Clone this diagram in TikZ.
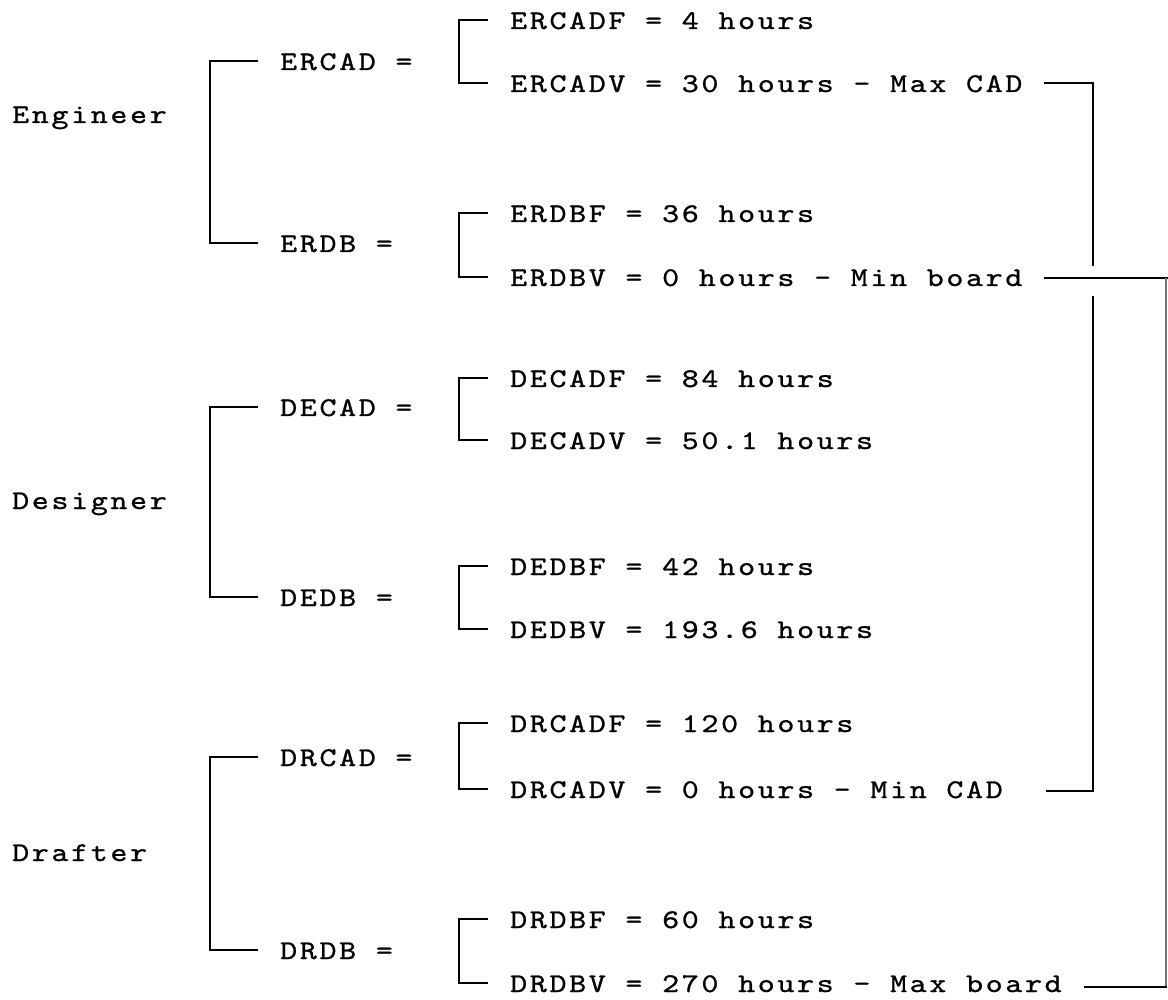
\documentclass[tikz,border=0pt]{standalone}
\usepackage{fontspec}
\newfontfamily\typew{lmmono10-regular.otf}[FakeStretch=1.2, LetterSpace=9.8, FakeBold=0.9]
\usetikzlibrary{calc}
\begin{document}
\begin{tikzpicture}[x=1pt,y=-1pt,
  txt/.style={anchor=base west, inner sep=0pt, font=\typew\fontsize{27}{32}\selectfont},
  ln/.style={line width=2.6pt, line cap=rect},
  faint/.style={line width=1.4pt, draw=black!55}]
\useasboundingbox[fill=white] (0,0) rectangle (1168,1000);
% group labels
\node[txt] (eng) at (12,123) {Engineer};
\node[txt] (des) at (12,509) {Designer};
\node[txt] (dra) at (12,861) {Drafter};
% middle level
\node[txt] (ercad) at (280,70) {ERCAD =};
\node[txt] (erdb)  at (280,252) {ERDB =};
\node[txt] (decad) at (280,416) {DECAD =};
\node[txt] (dedb)  at (280,606) {DEDB =};
\node[txt] (drcad) at (280,766) {DRCAD =};
\node[txt] (drdb)  at (280,959) {DRDB =};
% right level
\node[txt] (ercadf) at (510,29)  {ERCADF = 4 hours};
\node[txt] (ercadv) at (510,92)  {ERCADV = 30 hours - Max CAD};
\node[txt] (erdbf)  at (510,222) {ERDBF = 36 hours};
\node[txt] (erdbv)  at (510,286) {ERDBV = 0 hours - Min board};
\node[txt] (decadf) at (510,387) {DECADF = 84 hours};
\node[txt] (decadv) at (510,449) {DECADV = 50.1 hours};
\node[txt] (dedbf)  at (510,575) {DEDBF = 42 hours};
\node[txt] (dedbv)  at (510,638) {DEDBV = 193.6 hours};
\node[txt] (drcadf) at (510,732) {DRCADF = 120 hours};
\node[txt] (drcadv) at (510,798) {DRCADV = 0 hours - Min CAD};
\node[txt] (drdbf)  at (510,928) {DRDBF = 60 hours};
\node[txt] (drdbv)  at (510,992) {DRDBV = 270 hours - Max board};
% group brackets
\foreach \a/\b in {ercad/erdb, decad/dedb, drcad/drdb}{
  \draw[ln] ($(\a.base west)+(-23,-9)$) -| ($(\b.base west)+(-70,-9)$) -- ($(\b.base west)+(-23,-9)$);
}
% sub brackets
\foreach \a/\b in {ercadf/ercadv, erdbf/erdbv, decadf/decadv, dedbf/dedbv, drcadf/drcadv, drdbf/drdbv}{
  \draw[ln] ($(\a.base west)+(-23,-9)$) -| ($(\b.base west)+(-51,-9)$) -- ($(\b.base west)+(-23,-9)$);
}
% connectors
\coordinate (maxcad) at (1045,83);
\coordinate (mincad) at (1047,791);
\coordinate (minbrd) at (1045,278);
\coordinate (maxbrd) at (1085,987);
\coordinate (gapT) at (1093,265);
\coordinate (gapB) at (1093,297);
\coordinate (rc) at (1166,0);
\draw[ln] (maxcad) -| (gapT);
\draw[ln] (gapB) |- (mincad);
\draw[ln] (minbrd) -- (minbrd -| 1168,0);
\draw[faint] (minbrd -| rc) -- (maxbrd -| rc);
\draw[ln, line width=2pt] (maxbrd) -- (maxbrd -| rc);
\end{tikzpicture}
\end{document}
